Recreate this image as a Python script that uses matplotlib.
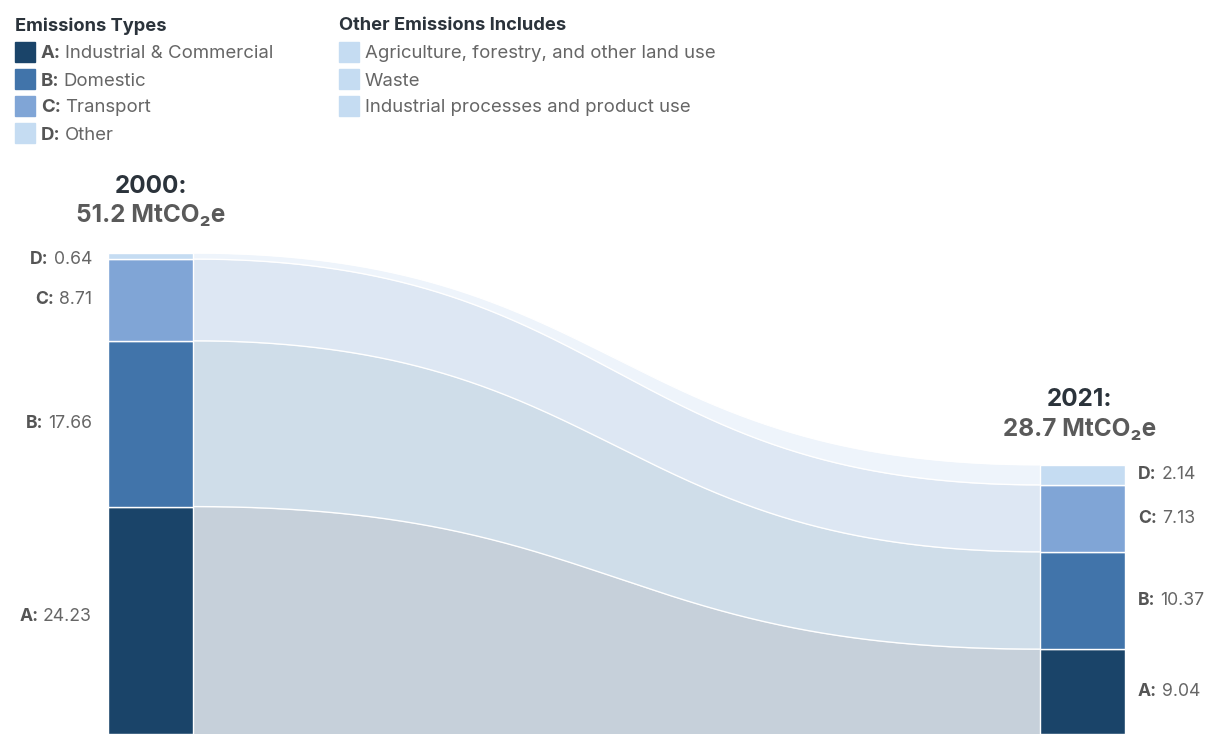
import numpy as np
import matplotlib
matplotlib.use("Agg")
import matplotlib.pyplot as plt

plt.rcParams["font.family"] = ["Inter", "DejaVu Sans"]

# Emission categories and values (MtCO2e)
codes = ["A", "B", "C", "D"]
names = ["Industrial & Commercial", "Domestic", "Transport", "Other"]
values_2000 = [24.23, 17.66, 8.71, 0.64]
values_2021 = [9.04, 10.37, 7.13, 2.14]
years = ["2000", "2021"]
totals = ["51.2", "28.7"]
other_items = ["Agriculture, forestry, and other land use", "Waste",
               "Industrial processes and product use"]

bar_colors = ["#1a4469", "#4174aa", "#80a5d6", "#c5dcf2"]
flow_colors = ["#c6d0da", "#cfdde9", "#dde7f3", "#eef4fb"]
title_color = "#2b333b"
label_color = "#666666"
prefix_color = "#555555"

W, H = 1211, 734
fig = plt.figure(figsize=(W / 100, H / 100), dpi=100)
ax = fig.add_axes([0, 0, 1, 1])
ax.set_xlim(0, W)
ax.set_ylim(0, 78.2)
ax.axis("off")

left_x, right_x, bar_w = 108, 1040, 85

def stacks(vals):
    b = np.concatenate([[0], np.cumsum(vals)])
    return b[:-1], b[1:]

lb, lt = stacks(values_2000)
rb, rt = stacks(values_2021)

# flows between the two bars: cubic bezier links with control points
# at the horizontal midpoint
u = np.linspace(0, 1, 2000)
gx = 1.5 * u - 1.5 * u ** 2 + u ** 3
fy = 3 * u ** 2 - 2 * u ** 3
xs = np.linspace(left_x + bar_w, right_x, 400)
s = np.interp((xs - xs[0]) / (xs[-1] - xs[0]), gx, fy)
for i in range(len(codes)):
    y0 = lb[i] + (rb[i] - lb[i]) * s
    y1 = lt[i] + (rt[i] - lt[i]) * s
    ax.fill_between(xs, y0, y1, color=flow_colors[i], lw=0, zorder=1)
    ax.plot(xs, y1, color="white", lw=1.0, zorder=2)

# stacked bars
for vals, x0 in ((values_2000, left_x), (values_2021, right_x)):
    bottoms, _ = stacks(vals)
    ax.bar([x0] * len(vals), vals, bottom=bottoms, width=bar_w, align="edge",
           color=bar_colors, edgecolor="white", linewidth=1.0, zorder=3)

def two_part(x, y, prefix, rest, ha, size):
    # bold code prefix followed by a regular-weight value
    if ha == "right":
        t2 = ax.text(x, y, rest, ha="right", va="center", fontsize=size,
                     color=label_color)
        ax.annotate(prefix, xy=(0, 0), xycoords=t2, xytext=(-3.5, 0),
                    textcoords="offset points", ha="right", va="bottom",
                    fontsize=size, fontweight="bold", color=prefix_color)
    else:
        t1 = ax.text(x, y, prefix, ha="left", va="center", fontsize=size,
                     fontweight="bold", color=prefix_color)
        ax.annotate(rest, xy=(1, 0), xycoords=t1, xytext=(3.5, 0),
                    textcoords="offset points", ha="left", va="bottom",
                    fontsize=size, color=label_color)

label_size = 12.7
for i, c in enumerate(codes):
    ymid = (lb[i] + lt[i]) / 2
    if c == "D":
        ymid -= 0.4
    if c == "A":
        ymid += 0.4
    two_part(92, ymid, c + ":", f"{values_2000[i]:.2f}", "right", label_size)
    two_part(1138, (rb[i] + rt[i]) / 2, c + ":", f"{values_2021[i]:.2f}",
             "left", label_size)

# year headings
def px(x, y):
    return x / W, 1 - y / H

for (cx, ty), yr, tot in zip(((151, 186), (1080, 399)), years, totals):
    fig.text(*px(cx, ty), yr + ":", ha="center", va="center", fontsize=17.5,
             fontweight="bold", color=title_color)
    fig.text(*px(cx, ty + 30), tot + " MtCO\u2082e", ha="center", va="center",
             fontsize=17.5, fontweight="bold", color="#5a5a5a")

# legends
leg_size = 13.4
fig.text(*px(15, 26), "Emissions Types", ha="left", va="center",
         fontsize=13.2, fontweight="bold", color=title_color)
for i, (c, n) in enumerate(zip(codes, names)):
    yc = 52 + 27 * i
    fig.patches.append(plt.Rectangle(px(15, yc + 10), 20 / W, 20 / H,
                                     transform=fig.transFigure,
                                     color=bar_colors[i]))
    t1 = fig.text(*px(41, yc + 2), c + ":", ha="left", va="center",
                  fontsize=leg_size, fontweight="bold", color=prefix_color)
    ax.annotate(n, xy=(1, 0), xycoords=t1, xytext=(3, 0),
                textcoords="offset points", ha="left", va="bottom",
                fontsize=leg_size, color=label_color,
                annotation_clip=False)

fig.text(*px(339, 26), "Other Emissions Includes", ha="left", va="center",
         fontsize=13.2, fontweight="bold", color=title_color)
for i, n in enumerate(other_items):
    yc = 52 + 27 * i
    fig.patches.append(plt.Rectangle(px(339, yc + 10), 20 / W, 20 / H,
                                     transform=fig.transFigure,
                                     color=bar_colors[3]))
    fig.text(*px(365, yc + 2), n, ha="left", va="center", fontsize=leg_size,
             color=label_color)

fig.savefig("out.png", dpi=100, facecolor="white")
